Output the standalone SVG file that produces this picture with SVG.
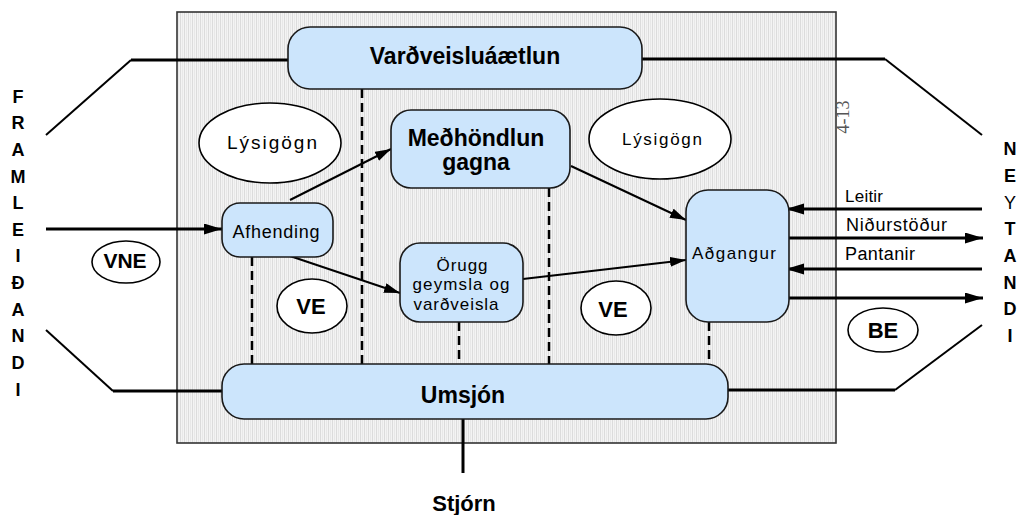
<svg xmlns="http://www.w3.org/2000/svg" width="1021" height="515" viewBox="0 0 1021 515">
<defs>
<pattern id="stripes" x="0" y="0" width="4" height="10" patternUnits="userSpaceOnUse">
<rect width="4" height="10" fill="#f4f4f4"/>
<rect x="0" width="1" height="10" fill="#dcdcdc"/>
<rect x="2" width="1" height="10" fill="#e8e8e8"/>
</pattern>
<marker id="ah" markerUnits="userSpaceOnUse" markerWidth="18" markerHeight="12" refX="16" refY="5" orient="auto">
<path d="M0,0 L16,5 L0,10 z" fill="#000"/>
</marker>
<marker id="ahb" markerUnits="userSpaceOnUse" markerWidth="20" markerHeight="12" refX="18" refY="5.5" orient="auto">
<path d="M0,0 L18,5.5 L0,11 z" fill="#000"/>
</marker>
</defs>
<style>
text{font-family:"Liberation Sans",Arial,sans-serif;fill:#000}
.box{fill:#cce5fc;stroke:#1a1a1a;stroke-width:1.6}
.ell{fill:#fff;stroke:#000;stroke-width:1.6}
.b{font-weight:bold}
.side{font-weight:bold;font-size:18px;text-anchor:middle}
.dash{stroke:#000;stroke-width:2.5;stroke-dasharray:9 5;fill:none}
.thick{stroke:#000;stroke-width:3;fill:none}
.thin{stroke:#000;stroke-width:2;fill:none}
.mid{text-anchor:middle}
.serif{font-family:"Liberation Serif","Times New Roman",serif;fill:#555}
</style>

<rect id="frame" x="177" y="12" width="659" height="431" fill="url(#stripes)" stroke="#333" stroke-width="1.6"/>
<text class="serif mid" x="849" y="117" font-size="18" transform="rotate(-90 849 117)">4-13</text>

<g id="connectors">
<polyline class="thin" points="46,135 131,60"/>
<line class="thick" x1="131" y1="60" x2="288" y2="60"/>
<line class="thick" x1="642" y1="59" x2="885" y2="59"/>
<polyline class="thin" points="885,59 982,135"/>
<polyline class="thin" points="46,330 113,391"/>
<line class="thick" x1="113" y1="391" x2="222" y2="391"/>
<line class="thick" x1="728" y1="390" x2="895" y2="390"/>
<polyline class="thin" points="895,390 982,325"/>
<line class="thick" x1="463" y1="419" x2="463" y2="473"/>
<line class="thick" x1="46" y1="229" x2="222" y2="229" marker-end="url(#ahb)"/>
<line class="thin" x1="290" y1="200" x2="391" y2="149" marker-end="url(#ah)"/>
<line class="thin" x1="290" y1="256" x2="400" y2="293" marker-end="url(#ah)"/>
<line class="thin" x1="571" y1="166" x2="686" y2="220" marker-end="url(#ah)"/>
<line class="thin" x1="523" y1="279" x2="686" y2="260" marker-end="url(#ah)"/>
<line class="thick" x1="982" y1="209" x2="786" y2="209" marker-end="url(#ahb)"/>
<line class="thick" x1="789" y1="238" x2="983" y2="238" marker-end="url(#ahb)"/>
<line class="thick" x1="982" y1="269" x2="786" y2="269" marker-end="url(#ahb)"/>
<line class="thick" x1="789" y1="298" x2="983" y2="298" marker-end="url(#ahb)"/>
<line class="dash" x1="252" y1="257" x2="252" y2="364"/>
<line class="dash" x1="362" y1="89" x2="362" y2="364"/>
<line class="dash" x1="549" y1="188" x2="549" y2="364"/>
<line class="dash" x1="459" y1="322" x2="459" y2="364"/>
<line class="dash" x1="709" y1="322" x2="709" y2="364"/>
</g>

<text x="845" y="202" font-size="17" textLength="38">Leitir</text>
<text x="846" y="231" font-size="18" textLength="101">Niðurstöður</text>
<text x="845" y="260" font-size="18" textLength="70">Pantanir</text>

<g id="vardveisluaaetlun">
<rect class="box" x="288" y="27" width="354" height="62" rx="22"/>
<text class="b mid" x="465" y="64" font-size="23">Varðveisluáætlun</text>
</g>
<g id="lysigogn1">
<ellipse class="ell" cx="270" cy="143" rx="71" ry="40"/>
<text class="mid" x="272" y="149" font-size="19" textLength="90">Lýsigögn</text>
</g>
<g id="medhondlun">
<rect class="box" x="391" y="110" width="179" height="78" rx="20"/>
<text class="b mid" x="476" y="146" font-size="23">Meðhöndlun</text>
<text class="b mid" x="476" y="170" font-size="23">gagna</text>
</g>
<g id="lysigogn2">
<ellipse class="ell" cx="660" cy="139" rx="71" ry="40"/>
<text class="mid" x="662" y="145" font-size="17" textLength="80">Lýsigögn</text>
</g>
<g id="afhending">
<rect class="box" x="222" y="203" width="111" height="54" rx="18"/>
<text class="mid" x="276" y="238" font-size="18" textLength="87">Afhending</text>
</g>
<g id="orugg">
<rect class="box" x="400" y="243" width="123" height="79" rx="20"/>
<text class="mid" x="462" y="271" font-size="17" textLength="51">Örugg</text>
<text class="mid" x="461" y="290" font-size="17" textLength="97">geymsla og</text>
<text class="mid" x="456" y="310" font-size="17" textLength="85">varðveisla</text>
</g>
<g id="adgangur">
<rect class="box" x="686" y="190" width="103" height="132" rx="22"/>
<text class="mid" x="734" y="259" font-size="17" textLength="84">Aðgangur</text>
</g>
<g id="umsjon">
<rect class="box" x="222" y="364" width="506" height="55" rx="22"/>
<text class="b mid" x="463" y="403" font-size="23">Umsjón</text>
</g>
<g id="vne">
<ellipse class="ell" cx="126" cy="262" rx="34" ry="21"/>
<text class="b mid" x="125" y="268" font-size="21">VNE</text>
</g>
<g id="ve1">
<ellipse class="ell" cx="312" cy="306" rx="35" ry="27"/>
<text class="b mid" x="311" y="314" font-size="22">VE</text>
</g>
<g id="ve2">
<ellipse class="ell" cx="616" cy="308" rx="35" ry="27"/>
<text class="b mid" x="613" y="317" font-size="22">VE</text>
</g>
<g id="be">
<ellipse class="ell" cx="883" cy="330" rx="35" ry="22"/>
<text class="b mid" x="883" y="338" font-size="22">BE</text>
</g>
<g id="stjorn">
<text class="b mid" x="464" y="511" font-size="22">Stjórn</text>
</g>

<g id="framleidandi">
<text class="side" x="18" y="103">F</text>
<text class="side" x="18" y="129">R</text>
<text class="side" x="18" y="156">A</text>
<text class="side" x="18" y="183">M</text>
<text class="side" x="18" y="209">L</text>
<text class="side" x="18" y="236">E</text>
<text class="side" x="18" y="262">I</text>
<text class="side" x="18" y="289">Ð</text>
<text class="side" x="18" y="316">A</text>
<text class="side" x="18" y="342">N</text>
<text class="side" x="18" y="369">D</text>
<text class="side" x="18" y="396">I</text>
</g>
<g id="neytandi">
<text class="side" x="1010" y="155">N</text>
<text class="side" x="1010" y="182">E</text>
<text class="side" x="1010" y="209" style="font-weight:normal">Y</text>
<text class="side" x="1010" y="235">T</text>
<text class="side" x="1010" y="262">A</text>
<text class="side" x="1010" y="289">N</text>
<text class="side" x="1010" y="315">D</text>
<text class="side" x="1010" y="342">I</text>
</g>
</svg>
